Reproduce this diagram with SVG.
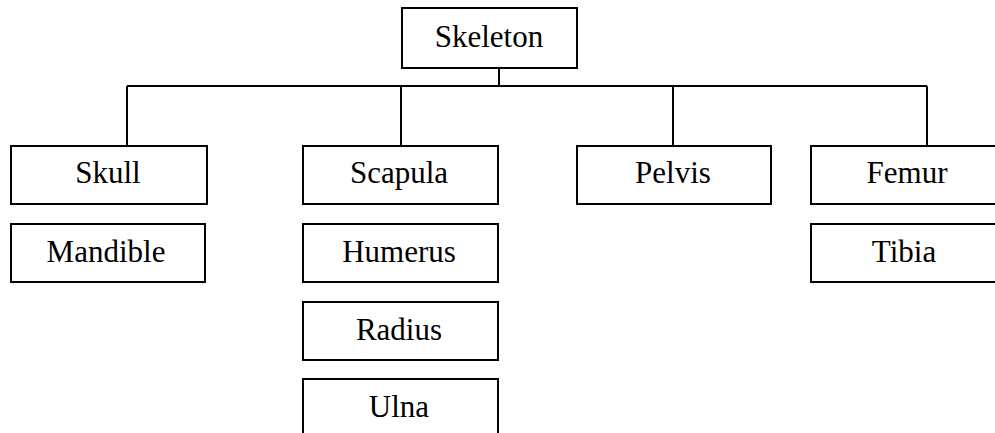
<svg xmlns="http://www.w3.org/2000/svg" width="995" height="433" viewBox="0 0 995 433">
<style>
.box{fill:#fff;stroke:#000;stroke-width:2}
.lbl{font-family:"Liberation Serif","Times New Roman",serif;font-size:31px;fill:#000;text-anchor:middle}
.con{fill:none;stroke:#000;stroke-width:2}
</style>
<rect width="995" height="433" fill="#fff"/>
<g id="connectors">
<path class="con" d="M499 68V86M127 86H927M127 86V146M401 86V146M673 86V146M927 86V146"/>
</g>
<g id="skeleton"><rect class="box" x="402" y="8" width="175" height="60"/><text class="lbl" x="489" y="47">Skeleton</text></g>
<g id="skull"><rect class="box" x="11" y="146" width="196" height="58"/><text class="lbl" x="108" y="183">Skull</text></g>
<g id="mandible"><rect class="box" x="11" y="224" width="194" height="58"/><text class="lbl" x="106" y="262">Mandible</text></g>
<g id="scapula"><rect class="box" x="303" y="146" width="195" height="58"/><text class="lbl" x="399" y="183">Scapula</text></g>
<g id="humerus"><rect class="box" x="303" y="224" width="195" height="58"/><text class="lbl" x="399" y="262">Humerus</text></g>
<g id="radius"><rect class="box" x="303" y="302" width="195" height="58"/><text class="lbl" x="399" y="340">Radius</text></g>
<g id="ulna"><rect class="box" x="303" y="379" width="195" height="70"/><text class="lbl" x="399" y="417">Ulna</text></g>
<g id="pelvis"><rect class="box" x="577" y="146" width="194" height="58"/><text class="lbl" x="673" y="183">Pelvis</text></g>
<g id="femur"><rect class="box" x="811" y="146" width="196" height="58"/><text class="lbl" x="907" y="183">Femur</text></g>
<g id="tibia"><rect class="box" x="811" y="224" width="196" height="58"/><text class="lbl" x="904" y="262">Tibia</text></g>
</svg>
